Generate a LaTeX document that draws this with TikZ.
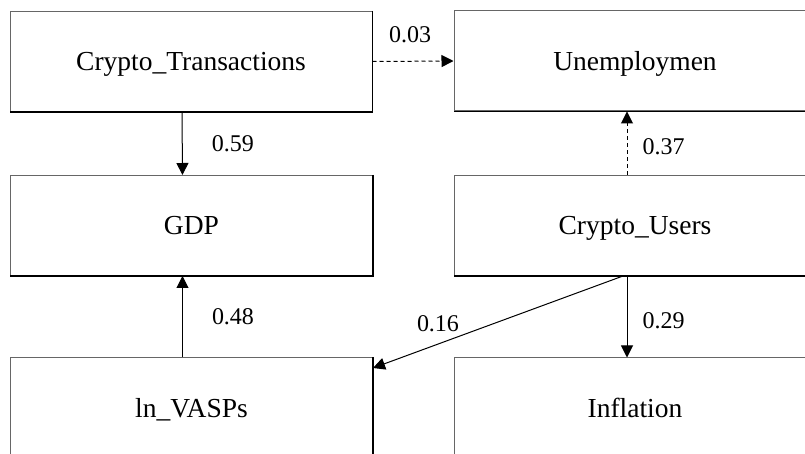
\documentclass[tikz,border=0pt]{standalone}
\usepackage{fontspec}
\setmainfont{Liberation Serif}
\usetikzlibrary{arrows.meta,positioning,calc}

\begin{document}
\begin{tikzpicture}[x=0.5pt,y=-0.5pt,
    var/.style={draw=black!60, line width=0.5pt, minimum width=181pt, minimum height=50pt,
        inner sep=0pt, text height=9.1pt, text depth=0pt, font=\fontsize{13.75}{16}\selectfont},
    path/.style={-{Triangle[length=6pt,width=6pt]}, line width=0.5pt},
    dashpath/.style={path, dash pattern=on 2pt off 1.5pt},
    coef/.style={inner sep=0pt, font=\fontsize{12}{14}\selectfont}]
    \clip (0,0) rectangle (805,454);

    % Variables
    \node[var] (trans) at (191,61.5) {Crypto\_Transactions};
    \node[var] (unemp) at (635,61) {Unemploymen};
    \node[var] (gdp) at (191.5,225.5) {GDP};
    \node[var] (users) at (635,225.5) {Crypto\_Users};
    \node[var] (vasp) at (191.5,408) {ln\_VASPs};
    \node[var] (infl) at (635,408) {Inflation};

    % darker right and bottom edges
    \foreach \n in {trans,unemp,gdp,users,vasp,infl}
        \draw[line width=0.8pt] (\n.north east) -- (\n.south east) -- (\n.south west);

    % Paths
    \draw[path] ([xshift=-4.5pt]trans.south) -- ([xshift=-4.5pt]gdp.north)
        node[coef, midway, right=14.5pt] {0.59};
    \draw[dashpath] (trans.east) -- (unemp.west)
        node[coef, midway, above=9pt, xshift=-1.5pt] {0.03};
    \draw[dashpath] ([xshift=-4pt]users.north) -- ([xshift=-4pt]unemp.south)
        node[coef, pos=0.45, right=7.5pt] {0.37};
    \draw[path] ([xshift=-4pt]users.south) -- ([xshift=-4pt]infl.north)
        node[coef, pos=0.55, right=7.5pt] {0.29};
    \draw[path] ([xshift=-6pt]users.south) -- ([yshift=20pt]vasp.east)
        node[coef, pos=0.74, above=6pt] {0.16};
    \draw[path] ([xshift=-4.5pt]vasp.north) -- ([xshift=-4.5pt]gdp.south)
        node[coef, midway, right=14.5pt] {0.48};
\end{tikzpicture}
\end{document}
